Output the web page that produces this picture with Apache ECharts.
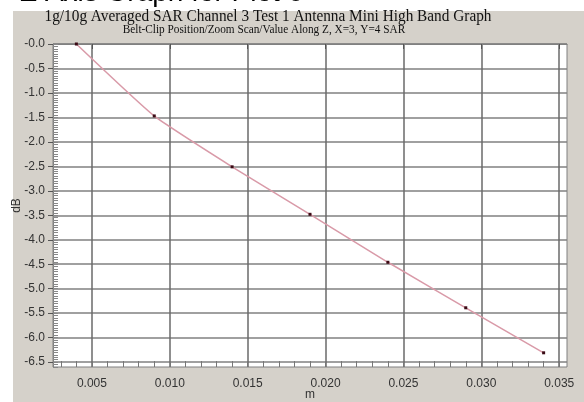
<!DOCTYPE html>
<html>
<head>
<meta charset="utf-8">
<script src="https://cdn.jsdelivr.net/npm/echarts@6/dist/echarts.min.js"></script>
<style>
html,body{margin:0;padding:0;background:#fff;}
#c{width:584px;height:402px;}
</style>
</head>
<body>
<div id="c"></div>
<script>
const xValues = [0.004, 0.009, 0.014, 0.019, 0.024, 0.029, 0.034];
const dbValues = [0.0, -1.47, -2.51, -3.48, -4.46, -5.39, -6.31];
const xTickLabels = [0.005, 0.010, 0.015, 0.020, 0.025, 0.030, 0.035];
const yTickLabels = [0, -0.5, -1.0, -1.5, -2.0, -2.5, -3.0, -3.5, -4.0, -4.5, -5.0, -5.5, -6.0, -6.5];
const pageTitle = 'Z Axis Graph for Plot 6';
const chartTitle = '1g/10g Averaged SAR Channel 3 Test 1 Antenna Mini High Band Graph';
const chartSubtitle = 'Belt-Clip Position/Zoom Scan/Value Along Z, X=3, Y=4 SAR';

const X_MIN = 0.0025, X_MAX = 0.0355, Y_MIN = -6.6, Y_MAX = 0;
const GRID = {left: 53, top: 44, right: 17, bottom: 35};
const plotHeight = 402 - GRID.top - GRID.bottom;

// minor tick positions (axis decoration)
const xMinor = [];
for (let i = 3; i <= 35; i++) xMinor.push(+(i * 0.001).toFixed(4));
const yMinor = [];
for (let i = 0; i <= 132; i++) yMinor.push(+(-i * 0.05).toFixed(3));

const chart = echarts.init(document.getElementById('c'), null, {renderer: 'canvas'});
const labelStyle = {color: '#333', fontSize: 12, fontFamily: 'Liberation Sans, Arial, sans-serif'};

chart.setOption({
  animation: false,
  backgroundColor: '#fff',
  graphic: [
    {type: 'rect', z: -10, shape: {x: 13, y: 11, width: 571, height: 391}, style: {fill: '#d5d1ca'}},
    {type: 'text', x: 20, y: -7, style: {text: pageTitle, fill: '#000', font: '28px "Liberation Sans", Arial, sans-serif', textAlign: 'left', textVerticalAlign: 'middle'}},
    {type: 'text', x: 268, y: 17, scaleX: 0.9, style: {text: chartTitle, fill: '#111', font: '17px "Liberation Serif", "Times New Roman", serif', textAlign: 'center', textVerticalAlign: 'middle'}},
    {type: 'text', x: 264, y: 30, scaleX: 0.94, style: {text: chartSubtitle, fill: '#111', font: '12px "Liberation Serif", "Times New Roman", serif', textAlign: 'center', textVerticalAlign: 'middle'}}
  ],
  grid: {left: GRID.left, top: GRID.top, right: GRID.right, bottom: GRID.bottom, containLabel: false, outerBoundsMode: 'none', show: true, backgroundColor: '#fff', borderColor: '#808080', borderWidth: 1},
  xAxis: [
    {
      type: 'value', min: X_MIN, max: X_MAX, position: 'bottom',
      name: 'm', nameLocation: 'middle', nameGap: 22, nameMoveOverlap: false, nameTextStyle: labelStyle,
      axisLine: {show: true, lineStyle: {color: '#808080', width: 1}},
      axisTick: {show: true, customValues: xTickLabels, length: 5, lineStyle: {color: '#555', width: 1}},
      axisLabel: Object.assign({customValues: xTickLabels, margin: 11, formatter: v => v.toFixed(3)}, labelStyle),
      splitLine: {show: true, lineStyle: {color: '#6a6a6a', width: 1.5}}
    },
    {
      type: 'value', min: X_MIN, max: X_MAX, position: 'top', offset: -plotHeight,
      axisLine: {show: false},
      axisTick: {show: true, inside: false, customValues: xMinor, length: 6, lineStyle: {color: '#777', width: 1}},
      axisLabel: {show: false},
      splitLine: {show: false}
    }
  ],
  yAxis: [
    {
      type: 'value', min: Y_MIN, max: Y_MAX, position: 'left',
      name: 'dB', nameLocation: 'middle', nameGap: 30, nameMoveOverlap: false, nameRotate: 90, nameTextStyle: labelStyle,
      axisLine: {show: true, lineStyle: {color: '#808080', width: 1}},
      axisTick: {show: true, customValues: yTickLabels, length: 5, lineStyle: {color: '#555', width: 1}},
      axisLabel: Object.assign({customValues: yTickLabels, margin: 8, formatter: v => (v === 0 ? '-0.0' : v.toFixed(1))}, labelStyle),
      splitLine: {show: true, lineStyle: {color: '#808080', width: 1.5}}
    },
    {
      type: 'value', min: Y_MIN, max: Y_MAX, position: 'left',
      axisLine: {show: false},
      axisTick: {show: true, inside: true, customValues: yMinor, length: 5, lineStyle: {color: '#888', width: 1}},
      axisLabel: {show: false},
      splitLine: {show: false}
    }
  ],
  series: [{
    type: 'line',
    xAxisIndex: 0, yAxisIndex: 0,
    data: xValues.map((x, i) => [x, dbValues[i]]),
    smooth: 0.15,
    clip: false,
    symbol: 'rect', symbolSize: 3, showSymbol: true,
    lineStyle: {color: '#d99aa8', width: 1.5},
    itemStyle: {color: '#3a0a14'}
  }]
});
</script>
</body>
</html>
